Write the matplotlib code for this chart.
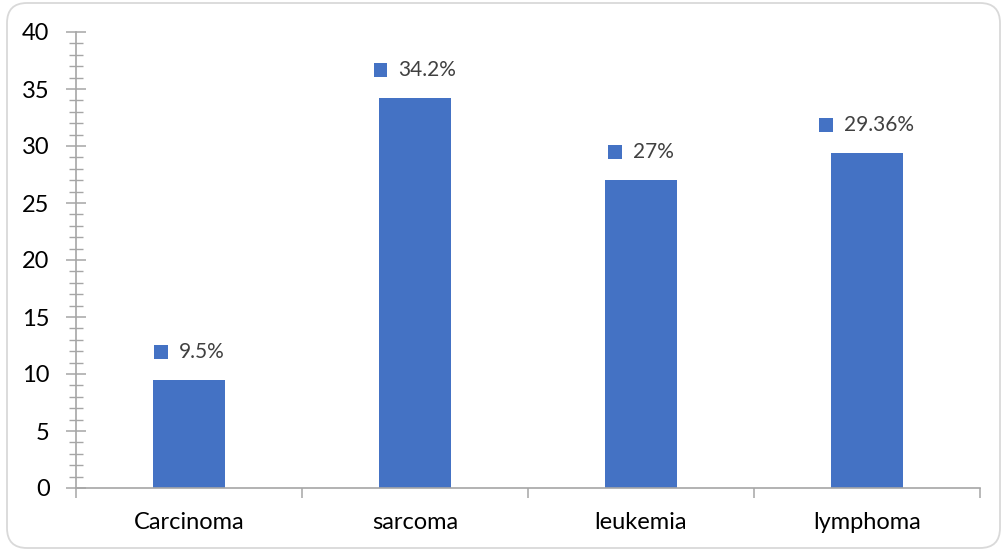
import matplotlib
matplotlib.use('Agg')
import matplotlib.pyplot as plt
from matplotlib.patches import FancyBboxPatch, Rectangle
from matplotlib.transforms import IdentityTransform
from matplotlib.offsetbox import AnnotationBbox, HPacker, DrawingArea, TextArea
from matplotlib.ticker import MultipleLocator, FixedLocator

# tipos de cancer e percentuais
categorias = ['Carcinoma', 'sarcoma', 'leukemia', 'lymphoma']
valores = [9.5, 34.2, 27, 29.36]
rotulos = ['9.5%', '34.2%', '27%', '29.36%']

azul = '#4472C4'
cinza_eixo = '#a6a6a6'

plt.rcParams['font.family'] = ['Lato', 'DejaVu Sans']

fig = plt.figure(figsize=(10.03, 5.52), dpi=100)
ax = fig.add_axes([76 / 1003, 64 / 552, 904 / 1003, 456 / 552])

# moldura arredondada em volta do grafico
moldura = FancyBboxPatch((7, 4), 993, 545, boxstyle='round,pad=0,rounding_size=20',
                         transform=IdentityTransform(), facecolor='none',
                         edgecolor='#d9d9d9', linewidth=1.3)
fig.patches.append(moldura)

x = list(range(len(categorias)))
ax.bar(x, valores, width=0.32, color=azul, zorder=2)

ax.set_xlim(-0.5, len(categorias) - 0.5)
ax.set_ylim(0, 40)

for lado in ['top', 'right']:
    ax.spines[lado].set_visible(False)
for lado in ['left', 'bottom']:
    ax.spines[lado].set_color(cinza_eixo)
    ax.spines[lado].set_linewidth(1.2)

ax.yaxis.set_major_locator(MultipleLocator(5))
ax.yaxis.set_minor_locator(MultipleLocator(1))
ax.tick_params(axis='y', which='major', direction='inout', length=14, width=1.1,
               color=cinza_eixo, labelsize=17, pad=12, labelcolor='black')
ax.tick_params(axis='y', which='minor', direction='inout', length=10, width=1.0,
               color=cinza_eixo)

# rotulos das categorias no centro, ticks nas divisas
ax.set_xticks(x)
ax.set_xticklabels(categorias)
ax.tick_params(axis='x', which='major', length=0, labelsize=17, pad=17)
ax.xaxis.set_minor_locator(FixedLocator([i - 0.5 for i in range(len(categorias) + 1)]))
ax.tick_params(axis='x', which='minor', direction='out', length=7, width=1.1,
               color=cinza_eixo)

# rotulos de dados com o quadradinho azul
for xi, v, txt in zip(x, valores, rotulos):
    quadrado = DrawingArea(10, 10)
    quadrado.add_artist(Rectangle((0, 0), 10, 10, facecolor=azul, edgecolor='none'))
    texto = TextArea(txt, textprops=dict(fontsize=15, color='#404040'))
    caixa = HPacker(children=[quadrado, texto], align='center', pad=0, sep=8)
    ab = AnnotationBbox(caixa, (xi, v), xybox=(0, 13), xycoords='data',
                        boxcoords='offset points', box_alignment=(0.5, 0),
                        frameon=False)
    ax.add_artist(ab)

fig.savefig('out.png', dpi=100)
